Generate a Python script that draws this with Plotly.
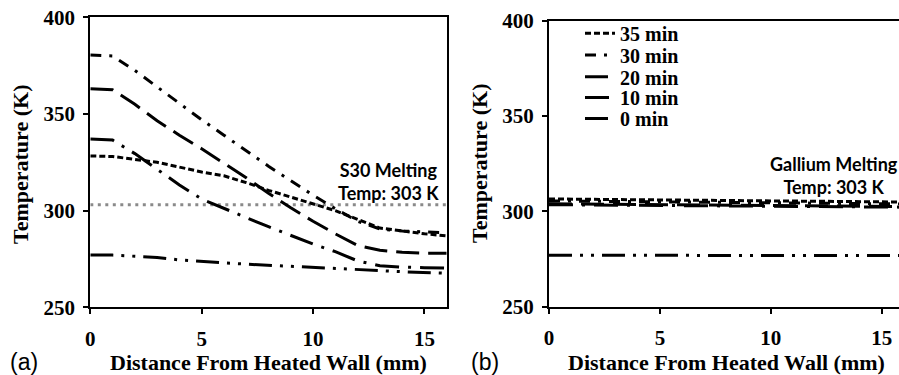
import plotly.graph_objects as go

# ---------------- data ----------------
distance_mm = [0, 1, 2, 3, 4, 5, 6, 7, 8, 9, 10, 11, 12, 13, 14, 15, 16]

series_names = ["35 min", "30 min", "20 min", "10 min", "0 min"]

# Panel (a): S30
s30_35 = [328.3, 328, 326.5, 325, 322.5, 320, 318, 314.5, 310.5, 307, 303.5, 300, 295.5, 291, 289.5, 288, 287]
s30_30 = [380.5, 380, 372.5, 364, 355.5, 347, 339, 331, 323, 315.5, 308, 301, 294.5, 290.5, 289.5, 289, 288.5]
s30_20 = [363, 362.5, 355, 346.5, 339, 332, 324.5, 317, 309, 301.5, 294.5, 288, 282, 279.5, 278.5, 278, 278]
s30_10 = [337, 336.5, 329.5, 321.3, 313.3, 306, 301, 296.4, 291.7, 287.2, 282.7, 278.8, 274, 271.5, 270.8, 270.5, 270.3]
s30_0 = [277.1, 277, 276.4, 275.8, 274.5, 273.6, 273, 272.3, 271.8, 271.1, 270.8, 270.1, 269.6, 269, 268.4, 268, 267.6]

# Panel (b): Gallium
ga_35 = [306.5, 306.4, 306.3, 306.2, 306.1, 306, 305.9, 305.8, 305.7, 305.6, 305.5, 305.4, 305.3, 305.2, 305.1, 305, 304.9]
ga_30 = [305.5, 305.4, 305.3, 305.2, 305.1, 305, 304.9, 304.8, 304.7, 304.6, 304.5, 304.4, 304.3, 304.2, 304.1, 304, 303.9]
ga_20 = [304, 303.9, 303.8, 303.7, 303.6, 303.5, 303.4, 303.3, 303.2, 303.1, 303, 302.9, 302.8, 302.7, 302.6, 302.5, 302.5]
ga_10 = [303.5, 303.4, 303.3, 303.2, 303.1, 303, 302.9, 302.8, 302.8, 302.7, 302.6, 302.5, 302.4, 302.4, 302.3, 302.3, 302.2]
ga_0 = [277, 277, 277, 277, 276.9, 276.9, 276.9, 276.9, 276.8, 276.8, 276.8, 276.8, 276.8, 276.8, 276.8, 276.8, 276.8]

melt_temp = 303
x_ticks = [0, 5, 10, 15]
x_tick_labels = ["0", "5", "10", "15"]
y_ticks = [250, 300, 350, 400]
y_tick_labels = ["250", "300", "350", "400"]

# ---------------- styles ----------------
dashes = ["6px,3px", "11px,8px,3px,8px", "23px,9px", "24px,9px,3px,9px", "23px,8px,3px,8px,3px,8px"]
LW = 3
W, H = 899, 375

fig = go.Figure()

s30 = [s30_35, s30_30, s30_20, s30_10, s30_0]
ga = [ga_35, ga_30, ga_20, ga_10, ga_0]
legend_ids = ["legend", "legend2", "legend3", "legend4", "legend5"]

fig.add_trace(go.Scatter(x=[distance_mm[0], distance_mm[-1]], y=[melt_temp, melt_temp],
                         mode="lines", line=dict(color="#8a8a8a", width=3, dash="3px,4.5px"),
                         showlegend=False, xaxis="x", yaxis="y", hoverinfo="skip"))

for name, ys, d in zip(series_names, s30, dashes):
    fig.add_trace(go.Scatter(x=distance_mm, y=ys, mode="lines", name=name,
                             line=dict(color="black", width=LW, dash=d),
                             showlegend=False, xaxis="x", yaxis="y"))
for name, ys, d, lg in zip(series_names, ga, dashes, legend_ids):
    fig.add_trace(go.Scatter(x=distance_mm, y=ys, mode="lines", name="<b>%s</b>" % name,
                             line=dict(color="black", width=LW, dash=d), legend=lg,
                             showlegend=True, xaxis="x2", yaxis="y2"))

serif = "Liberation Serif"
tickfont = dict(family=serif, size=21, color="black")

def px_x(p):
    return p / W

def px_y(p):
    return 1 - p / H

bold = lambda labels: ["<b>%s</b>" % t for t in labels]

common_x = dict(showgrid=False, zeroline=False, showline=True, linecolor="black", linewidth=2,
                ticks="outside", ticklen=5, tickwidth=2, tickcolor="black", automargin=False,
                tickvals=x_ticks, ticktext=bold(x_tick_labels), tickfont=tickfont, ticklabelstandoff=6)
common_y = dict(showgrid=False, zeroline=False, showline=True, linecolor="black", linewidth=2,
                ticks="outside", ticklen=5, tickwidth=2, tickcolor="black", automargin=False,
                tickvals=y_ticks, ticktext=bold(y_tick_labels), range=[250, 400], tickfont=tickfont,
                ticklabelstandoff=4)

x2_end = (W - 549) / ((881.7 - 549) / 15)

legend_rows = [33.3, 55, 76.7, 97.5, 118.5]
legend_font = dict(family=serif, size=20, color="black")
legends = {}
for lg, row in zip(legend_ids, legend_rows):
    legends[lg] = dict(x=px_x(580), y=px_y(row), xanchor="left", yanchor="middle",
                       font=legend_font, bgcolor="rgba(0,0,0,0)", borderwidth=0)

fig.update_layout(
    template="none",
    width=W, height=H, margin=dict(l=0, r=0, t=0, b=0, autoexpand=False),
    paper_bgcolor="white", plot_bgcolor="white",
    xaxis=dict(domain=[px_x(90.3), px_x(446.7)], range=[0, 16], anchor="y", mirror=True, **common_x),
    yaxis=dict(domain=[px_y(307.3), px_y(17.3)], anchor="x", mirror=True, **common_y),
    xaxis2=dict(domain=[px_x(549), 1.0], range=[0, x2_end], anchor="y2", mirror=True, **common_x),
    yaxis2=dict(domain=[px_y(306.7), px_y(20.7)], anchor="x2", mirror=False, **common_y),
    showlegend=True,
    **legends,
)

title_font = dict(family=serif, size=22, color="black")
ann = []
ann.append(dict(text="<b>Distance From Heated Wall (mm)</b>", x=px_x(268), y=px_y(362), xref="paper", yref="paper",
                showarrow=False, font=title_font, xanchor="center", yanchor="middle"))
ann.append(dict(text="<b>Distance From Heated Wall (mm)</b>", x=px_x(726.5), y=px_y(362), xref="paper", yref="paper",
                showarrow=False, font=title_font, xanchor="center", yanchor="middle"))
ann.append(dict(text="<b>Temperature (K)</b>", x=px_x(21), y=px_y(165), xref="paper", yref="paper", textangle=-90,
                showarrow=False, font=title_font, xanchor="center", yanchor="middle"))
ann.append(dict(text="<b>Temperature (K)</b>", x=px_x(479), y=px_y(164), xref="paper", yref="paper", textangle=-90,
                showarrow=False, font=title_font, xanchor="center", yanchor="middle"))
label_font = dict(family="Liberation Sans", size=23, color="black")
ann.append(dict(text="(a)", x=px_x(24), y=px_y(362), xref="paper", yref="paper",
                showarrow=False, font=label_font, xanchor="center", yanchor="middle"))
ann.append(dict(text="(b)", x=px_x(485), y=px_y(362), xref="paper", yref="paper",
                showarrow=False, font=label_font, xanchor="center", yanchor="middle"))
note_font = dict(family="Lato", size=18, color="black")
ann.append(dict(text="<b>S30 Melting<br>Temp: %d K</b>" % melt_temp, x=px_x(388), y=px_y(181), xref="paper", yref="paper",
                showarrow=False, font=note_font, xanchor="center", yanchor="middle", align="center"))
ann.append(dict(text="<b>Gallium Melting<br>Temp: %d K</b>" % melt_temp, x=px_x(834), y=px_y(175), xref="paper", yref="paper",
                showarrow=False, font=note_font, xanchor="center", yanchor="middle", align="center"))
fig.update_layout(annotations=ann)

fig.write_html("out.html", config={"displayModeBar": False},
               post_script="document.body.style.margin='0px';document.body.style.padding='0px';")
